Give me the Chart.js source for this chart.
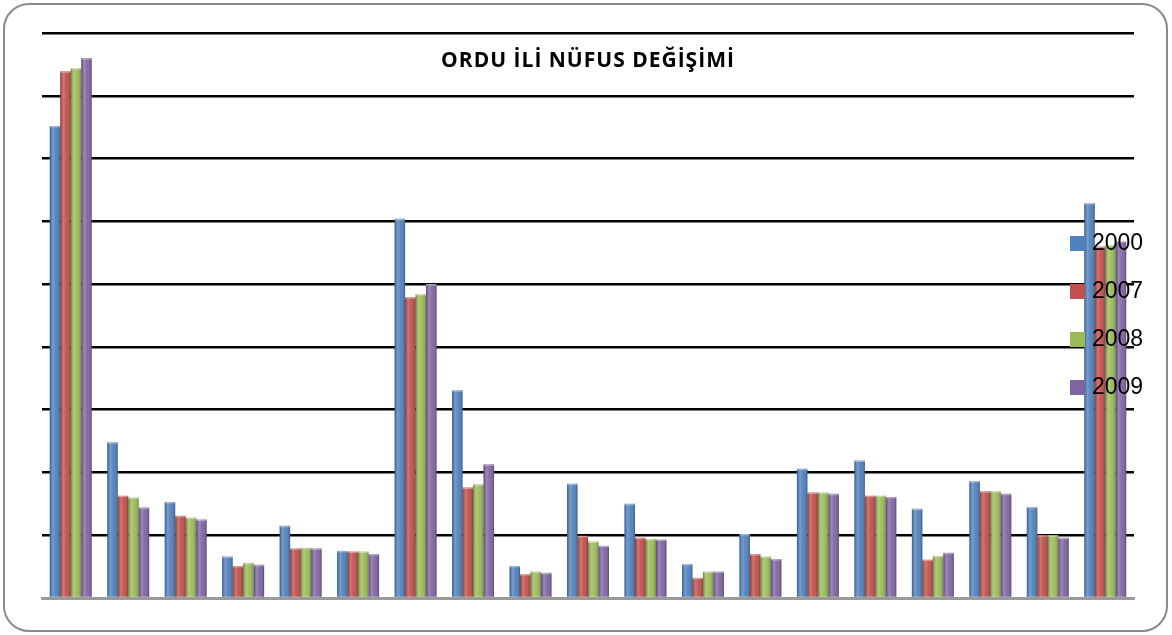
<!DOCTYPE html>
<html>
<head>
<meta charset="utf-8">
<script src="https://cdn.jsdelivr.net/npm/chart.js@4/dist/chart.umd.min.js"></script>
<style>
  body { margin: 0; background: #fff; }
  #wrap { position: relative; width: 1172px; height: 635px; }
  #frame {
    position: absolute; left: 3px; top: 3px; width: 1161px; height: 625px;
    border: 2px solid #8a8a8a; border-radius: 26px;
  }
  canvas { position: absolute; left: 0; top: 0; }
</style>
</head>
<body>
<div id="wrap">
  <div id="frame"></div>
  <canvas id="chart" width="1172" height="635"></canvas>
</div>
<script>
// Ordu districts (labels not shown on the chart)
const districts = ['Merkez', 'Akkuş', 'Aybastı', 'Çamaş', 'Çatalpınar', 'Çaybaşı', 'Fatsa', 'Gölköy',
  'Gülyalı', 'Gürgentepe', 'İkizce', 'Kabadüz', 'Kabataş', 'Korgan', 'Kumru', 'Mesudiye',
  'Perşembe', 'Ulubey', 'Ünye'];

const years = ['2000', '2007', '2008', '2009'];

const pop2000 = [150400, 49600, 30600, 13200, 23000, 15000, 120800, 66200, 10200, 36400,
  30000, 10800, 20400, 41200, 43800, 28400, 37200, 29000, 125800];
const pop2007 = [167800, 32600, 26200, 10200, 15800, 14800, 95800, 35200, 7600, 19800,
  19200, 6400, 14000, 33600, 32600, 12200, 34000, 20000, 112000];
const pop2008 = [168800, 32000, 25600, 11200, 16000, 14800, 96800, 36200, 8400, 18000,
  18800, 8400, 13200, 33600, 32600, 13400, 34000, 20000, 112400];
const pop2009 = [172000, 28800, 25000, 10600, 15800, 14000, 100000, 42600, 8000, 16600,
  18600, 8400, 12400, 33200, 32200, 14400, 33200, 19200, 113600];

const colors = ['#4F81BD', '#C0504D', '#9BBB59', '#8064A2'];

const title = 'ORDU İLİ NÜFUS DEĞİŞİMİ';

// shading on the bars, title inside the plot, legend drawn over the bars
const decor = {
  id: 'decor',
  afterDatasetsDraw(chart) {
    const ctx = chart.ctx;
    ctx.save();
    chart.data.datasets.forEach((ds, i) => {
      chart.getDatasetMeta(i).data.forEach(el => {
        const { x, y, base, width } = el.getProps(['x', 'y', 'base', 'width'], true);
        const g = ctx.createLinearGradient(x - width / 2, 0, x + width / 2, 0);
        g.addColorStop(0, 'rgba(0,0,0,0.30)');
        g.addColorStop(0.3, 'rgba(255,255,255,0.22)');
        g.addColorStop(0.6, 'rgba(255,255,255,0.04)');
        g.addColorStop(1, 'rgba(0,0,0,0.28)');
        ctx.fillStyle = g;
        ctx.fillRect(x - width / 2, y, width, base - y);
        ctx.fillStyle = 'rgba(255,255,255,0.35)';
        ctx.fillRect(x - width / 2, y, width, 1.5);
      });
    });
    ctx.restore();
  },
  afterDraw(chart) {
    const ctx = chart.ctx;
    const area = chart.chartArea;
    ctx.save();
    ctx.fillStyle = '#000';
    ctx.font = 'bold 21px "Open Sans"';
    ctx.letterSpacing = '1px';
    ctx.textAlign = 'center';
    ctx.textBaseline = 'middle';
    ctx.fillText(title, (area.left + area.right) / 2, 61);
    ctx.letterSpacing = '0px';

    ctx.font = '23px "Liberation Sans"';
    ctx.textAlign = 'left';
    chart.data.datasets.forEach((ds, i) => {
      const cy = 243 + i * 48;
      ctx.fillStyle = ds.backgroundColor;
      ctx.fillRect(1070, cy - 7, 15, 15);
      ctx.fillStyle = '#000';
      ctx.fillText(ds.label, 1092, cy + 1);
    });
    ctx.restore();
  }
};

const data = {
  labels: districts,
  datasets: [
    { label: years[0], data: pop2000, backgroundColor: colors[0] },
    { label: years[1], data: pop2007, backgroundColor: colors[1] },
    { label: years[2], data: pop2008, backgroundColor: colors[2] },
    { label: years[3], data: pop2009, backgroundColor: colors[3] },
  ],
};

const config = {
  type: 'bar',
  data: data,
  options: {
    responsive: false,
    animation: false,
    devicePixelRatio: 1,
    layout: { padding: { left: 42, right: 38, top: 33, bottom: 37 } },
    datasets: { bar: { categoryPercentage: 0.73, barPercentage: 1 } },
    plugins: {
      legend: { display: false },
      title: { display: false },
    },
    scales: {
      x: {
        grid: { display: false, drawTicks: false },
        ticks: { display: false },
        border: { display: true, color: '#9a9a9a', width: 3 },
      },
      y: {
        min: 0,
        max: 180000,
        ticks: { display: false, stepSize: 20000 },
        grid: {
          drawTicks: false,
          lineWidth: 2.5,
          color: c => (c.tick && c.tick.value === 0 ? 'rgba(0,0,0,0)' : '#000'),
        },
        border: { display: false },
      },
    },
  },
  plugins: [decor],
};

const myChart = new Chart(document.getElementById('chart').getContext('2d'), config);
</script>
</body>
</html>
